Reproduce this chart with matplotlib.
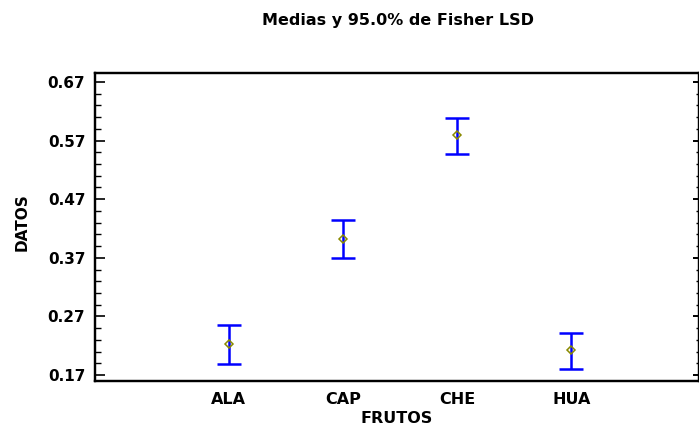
import matplotlib
matplotlib.use("Agg")
import matplotlib.pyplot as plt
from matplotlib.ticker import FixedLocator
import numpy as np

categories = ["ALA", "CAP", "CHE", "HUA"]
means = [0.223, 0.402, 0.580, 0.213]
upper = [0.255, 0.435, 0.609, 0.242]
lower = [0.189, 0.370, 0.547, 0.180]

plt.rcParams['font.family'] = ['DejaVu Sans']

fig = plt.figure(figsize=(6.99, 4.30), dpi=100)
ax = fig.add_axes([95/699, 1-381/430, 604/699, 308/430])

x = np.arange(1, len(categories) + 1)
m = np.array(means)
yerr = [m - np.array(lower), np.array(upper) - m]
ax.errorbar(x, m, yerr=yerr, fmt='none', ecolor='#0000ff', elinewidth=1.8,
            capsize=8.5, capthick=1.8, zorder=2)
ax.plot(x, m, linestyle='none', marker='D', markersize=4.5,
        markerfacecolor='none', markeredgecolor='#8a8a00', markeredgewidth=1.1, zorder=3)

ax.set_xlim(1 - 134/114.5, 4 + 128/114.5)
ylim = (0.17 - 6/586, 0.67 + 9/586)
ax.set_ylim(*ylim)

yt = [0.17, 0.27, 0.37, 0.47, 0.57, 0.67]
minor = [v for v in np.arange(0.17, 0.671, 0.02) if all(abs(v - t) > 1e-6 for t in yt)]
ax.yaxis.set_major_locator(FixedLocator(yt))
ax.yaxis.set_minor_locator(FixedLocator(minor))
ax.set_yticklabels([f"{v:.2f}" for v in yt], fontsize=11, fontweight='bold')
ax.set_xticks(x)
ax.set_xticklabels(categories, fontsize=11.5, fontweight='bold')
ax.tick_params(axis='x', length=0, pad=8)
ax.tick_params(axis='y', which='major', direction='in', length=7, width=1.2,
               left=True, right=False, pad=7)
ax.tick_params(axis='y', which='minor', direction='in', length=4, width=1.0,
               left=True, right=False)

# right-side short ticks
ax2 = ax.twinx()
ax2.set_ylim(*ylim)
ax2.yaxis.set_major_locator(FixedLocator(yt))
ax2.yaxis.set_minor_locator(FixedLocator(minor))
ax2.tick_params(axis='y', which='major', direction='in', length=4, width=1.4, labelright=False)
ax2.tick_params(axis='y', which='minor', direction='in', length=2, width=1.0, labelright=False)

for a in (ax, ax2):
    for s in a.spines.values():
        s.set_linewidth(1.6)

ax.set_xlabel("FRUTOS", fontsize=11.5, fontweight='bold', labelpad=3)
ax.set_ylabel("DATOS", fontsize=11, fontweight='bold')
ax.yaxis.set_label_coords((30 - 95) / 604, (381 - 222) / 308)
fig.text(398/699, 1 - 20/430, "Medias y 95.0% de Fisher LSD", ha='center', va='center',
         fontsize=11.5, fontweight='bold')

fig.savefig("out.png", dpi=100)
